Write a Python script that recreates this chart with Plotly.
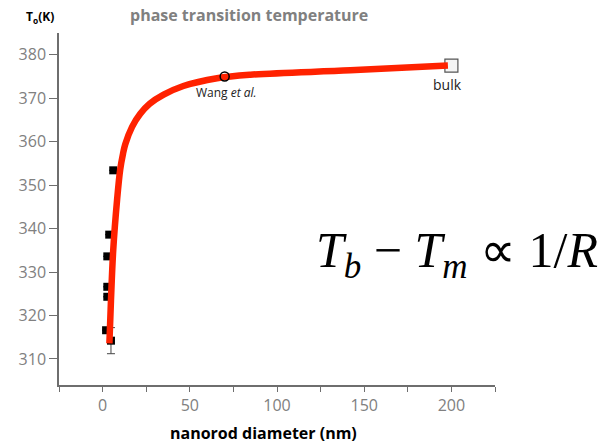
import plotly.graph_objects as go

# Measured nanorod transition temperatures (diameter in nm, T in K)
rod_d = [6.1, 3.8, 2.7, 2.7, 2.7, 2.0, 4.8]
rod_t = [353.4, 338.6, 333.6, 326.6, 324.3, 316.6, 314.2]
rod_err = [0, 0, 0, 0, 0, 0, 3.0]

# Wang et al. and bulk reference points
wang_d, wang_t = [70], [375.0]
bulk_d, bulk_t = [200], [377.5]

# Size-dependence guide curve
fit_d = [3.9, 4.8, 6.1, 8.3, 10.1, 11.7, 13.0, 16.9, 21.6, 27.0, 35.0, 46.3, 65.6, 84.7, 142, 198]
fit_t = [313.6, 323.5, 335.1, 346.6, 353.6, 357.2, 359.4, 363.4, 366.4, 368.7, 370.8, 372.8, 374.6, 375.4, 376.4, 377.5]

x_ticks = [-25, 0, 25, 50, 75, 100, 125, 150, 175, 200, 225]
x_labels = ["", "0", "", "50", "", "100", "", "150", "", "200", ""]
y_ticks = [310, 320, 330, 340, 350, 360, 370, 380]

FONT = "Open Sans"
AXIS_GREY = "#6e6e6e"

fig = go.Figure()

fig.add_trace(go.Scatter(
    x=bulk_d, y=bulk_t, mode="markers",
    marker=dict(symbol="square", size=13, color="#f4f4f4",
                line=dict(color="#555555", width=1.2)),
    showlegend=False, hoverinfo="skip"))

fig.add_trace(go.Scatter(
    x=rod_d, y=rod_t, mode="markers",
    marker=dict(symbol="square", size=8, color="black"),
    error_y=dict(type="data", array=rod_err, color="#444444", thickness=1, width=4),
    showlegend=False))

fig.add_trace(go.Scatter(
    x=fit_d, y=fit_t, mode="lines",
    line=dict(color="#ff2200", width=6.5, shape="spline", smoothing=1.0),
    showlegend=False))

fig.add_trace(go.Scatter(
    x=wang_d, y=wang_t, mode="markers",
    marker=dict(symbol="circle-open", size=9, color="black", line=dict(width=1.5)),
    showlegend=False))

fig.add_annotation(x=71.3, y=371.2, text="Wang <i>et al.</i>", showarrow=False,
                   xanchor="center", yanchor="middle",
                   font=dict(family=FONT, size=12, color="#222222"))
fig.add_annotation(x=197.5, y=373.1, text="bulk", showarrow=False,
                   xanchor="center", yanchor="middle",
                   font=dict(family=FONT, size=14, color="#222222"))

# Titles and labels
fig.add_annotation(xref="paper", yref="paper", x=0.436, y=1.051,
                   xanchor="center", yanchor="middle",
                   text="<b>phase transition temperature</b>", showarrow=False,
                   font=dict(family=FONT, size=16, color="#808080"))
fig.add_annotation(xref="paper", yref="paper", x=-0.044, y=1.045,
                   xanchor="center", yanchor="middle",
                   text="<b>T<sub>o</sub>(K)</b>", showarrow=False,
                   font=dict(family=FONT, size=12, color="black"))
fig.add_annotation(xref="paper", yref="paper", x=0.47, y=-0.136,
                   xanchor="center", yanchor="middle",
                   text="<b>nanorod diameter (nm)</b>", showarrow=False,
                   font=dict(family=FONT, size=16, color="black"))
fig.add_annotation(xref="paper", yref="paper", x=1.241, y=0.372,
                   xanchor="right", yanchor="middle",
                   text="<i>T</i><sub><i>b</i></sub> − <i>T</i><sub><i>m</i></sub> ∝ 1/<i>R</i>",
                   showarrow=False,
                   font=dict(family="Liberation Serif", size=50, color="black"))

fig.update_xaxes(range=[-25, 225], tickmode="array", tickvals=x_ticks, ticktext=x_labels,
                 ticks="outside", ticklen=5, tickwidth=1, tickcolor=AXIS_GREY,
                 showline=True, linecolor=AXIS_GREY, linewidth=1.5,
                 showgrid=False, zeroline=False,
                 tickfont=dict(family=FONT, size=16, color="#808080"))
fig.update_yaxes(range=[304, 385], tickmode="array", tickvals=y_ticks,
                 ticks="outside", ticklen=8, tickwidth=1, tickcolor=AXIS_GREY,
                 showline=True, linecolor=AXIS_GREY, linewidth=1.5,
                 showgrid=False, zeroline=False,
                 tickfont=dict(family=FONT, size=16, color="#808080"))

fig.update_layout(width=607, height=446,
                  margin=dict(l=59, r=112, t=33, b=61),
                  plot_bgcolor="white", paper_bgcolor="white")

fig.write_html("out.html")
